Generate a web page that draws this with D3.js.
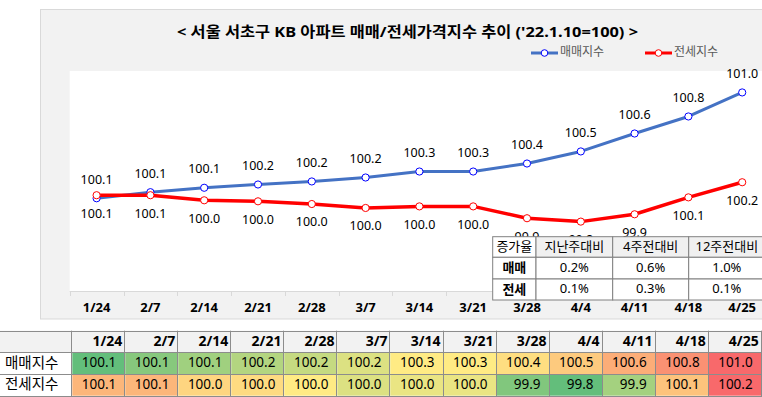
<!DOCTYPE html>
<html><head><meta charset="utf-8">
<script src="https://cdn.jsdelivr.net/npm/d3@7"></script>
<style>
html,body{margin:0;padding:0;background:#fff;overflow:hidden;}
svg{display:block;}
text{font-family:'Noto Sans','Noto Sans CJK KR',sans-serif;}
</style></head>
<body>
<svg id="c" width="762" height="397"></svg>
<script>
// ---- data ----
const title = "< 서울 서초구 KB 아파트 매매/전세가격지수 추이 ('22.1.10=100) >";
const categories = ["1/24","2/7","2/14","2/21","2/28","3/7","3/14","3/21","3/28","4/4","4/11","4/18","4/25"];
const seriesNames = ["매매지수","전세지수"];
const saleIndex = [100.052,100.106,100.145,100.174,100.201,100.236,100.289,100.289,100.36,100.467,100.626,100.777,100.99];
const jeonseIndex = [100.079,100.079,100.034,100.025,100.001,99.966,99.98,99.98,99.875,99.845,99.91,100.06,100.194];
const incHeaderCorner = "증가율";
const incHeaders = ["지난주대비","4주전대비","12주전대비"];
const incRowNames = ["매매","전세"];
const incSale = ["0.2%","0.6%","1.0%"];
const incJeonse = ["0.1%","0.3%","0.1%"];

const svg = d3.select("#c");
const fmt = d3.format(".1f");

// chart box
svg.append("rect").attr("x",40.5).attr("y",9.5).attr("width",760).attr("height",309.5)
  .attr("fill","#f2f2f2").attr("stroke","#d9d9d9");

// plot area
const x = d3.scaleBand().domain(categories).range([69.7, 769.1]).padding(0);
const y = d3.scaleLinear().domain([99.23, 101.18]).range([291, 71]);
svg.append("rect").attr("x",69.7).attr("y",71).attr("width",700).attr("height",220).attr("fill","#fff");

// title
svg.append("text").attr("x",407.5).attr("y",33).attr("text-anchor","middle").attr("dominant-baseline","middle")
  .attr("font-size",15).attr("font-weight","bold").attr("fill","#000")
  .attr("textLength",461).attr("lengthAdjust","spacingAndGlyphs").text(title);

// legend
const legCols = ["#4472c4","#ff0000"], mkCols = ["#0000ff","#ff0000"];
const legX = [531, 645];
seriesNames.forEach((n,i)=>{
  const g = svg.append("g");
  g.append("line").attr("x1",legX[i]).attr("x2",legX[i]+27).attr("y1",53).attr("y2",53)
    .attr("stroke",legCols[i]).attr("stroke-width",3);
  g.append("circle").attr("cx",legX[i]+13.5).attr("cy",53).attr("r",3.3).attr("fill","#fff").attr("stroke",mkCols[i]).attr("stroke-width",1);
  g.append("text").attr("x",legX[i]+29).attr("y",53).attr("dominant-baseline","middle")
    .attr("font-size",12).attr("fill","#595959").text(n);
});

// x axis
const axis = svg.append("g").attr("transform","translate(0,291)")
  .call(d3.axisBottom(x).tickSize(0).tickPadding(12));
axis.select(".domain").attr("stroke","#d9d9d9").attr("d","M69.7,0.5H770");
axis.selectAll("text").attr("font-size",13).attr("font-weight","bold").attr("fill","#000")
  .style("font-family","'Noto Sans','Noto Sans CJK KR',sans-serif");
svg.append("g").selectAll("line").data(categories).join("line")
  .attr("x1",d=>Math.round(x(d))+0.5).attr("x2",d=>Math.round(x(d))+0.5).attr("y1",291).attr("y2",296)
  .attr("stroke","#d9d9d9");

// lines
const cx = d=>x(d)+x.bandwidth()/2;
const line = d3.line().x((v,i)=>cx(categories[i])).y(v=>y(v));
const allSeries = [saleIndex, jeonseIndex];
const lw = [3, 3.5];
allSeries.forEach((s,k)=>{
  svg.append("path").datum(s).attr("d",line).attr("fill","none")
    .attr("stroke",legCols[k]).attr("stroke-width",lw[k]).attr("stroke-linejoin","round");
});
allSeries.forEach((s,k)=>{
  svg.append("g").selectAll("circle").data(s).join("circle")
    .attr("cx",(v,i)=>cx(categories[i])).attr("cy",v=>y(v)).attr("r",3.6)
    .attr("fill","#fff").attr("stroke",mkCols[k]).attr("stroke-width",1);
});
// point labels
allSeries.forEach((s,k)=>{
  svg.append("g").selectAll("text").data(s).join("text")
    .attr("x",(v,i)=>cx(categories[i])).attr("y",v=>y(v)+(k===0?-18:19))
    .attr("text-anchor","middle").attr("dominant-baseline","middle")
    .attr("font-size",12.5).attr("fill","#000").text(v=>fmt(v));
});

// inset increase table
const tx = [492.7, 536, 612.7, 688.7, 765];
const ty = [236.7, 257.3, 279, 300];
const inset = svg.append("g");
const incData = [[incHeaderCorner].concat(incHeaders), [incRowNames[0]].concat(incSale), [incRowNames[1]].concat(incJeonse)];
incData.forEach((row,r)=>{
  row.forEach((cell,c)=>{
    const bg = (r===0 && c>0) ? "#f0f0f0" : "#fff";
    inset.append("rect").attr("x",tx[c]).attr("y",ty[r]).attr("width",tx[c+1]-tx[c]).attr("height",ty[r+1]-ty[r])
      .attr("fill",bg).attr("stroke","#808080").attr("stroke-width",1);
    inset.append("text").attr("x",(tx[c]+tx[c+1])/2).attr("y",(ty[r]+ty[r+1])/2+0.5)
      .attr("text-anchor","middle").attr("dominant-baseline","middle")
      .attr("font-size",13).attr("font-weight",(r>0 && c===0)?"bold":"normal").attr("fill","#000")
      .text(cell);
  });
});

// bottom data table
const bx = d3.scaleBand().domain(categories).range([72.3, 761.7]);
const by = [330.7, 352.3, 374, 395.7];
const tbl = svg.append("g");
tbl.append("rect").attr("x",0).attr("y",by[0]).attr("width",762).attr("height",by[1]-by[0]).attr("fill","#f2f2f2");
tbl.selectAll("text.h").data(categories).join("text").attr("class","h")
  .attr("x",d=>bx(d)+bx.bandwidth()-3).attr("y",(by[0]+by[1])/2+1)
  .attr("text-anchor","end").attr("dominant-baseline","middle")
  .attr("font-size",14).attr("font-weight","bold").attr("fill","#000").text(d=>d);
const green="#63be7b", yellow="#ffeb84", red="#f8696b";
allSeries.forEach((s,k)=>{
  const sorted = s.slice().sort(d3.ascending);
  const col = d3.scaleLinear().domain([d3.min(s), d3.median(sorted), d3.max(s)])
    .range([green,yellow,red]).interpolate(d3.interpolateRgb);
  const g = tbl.append("g");
  g.append("rect").attr("x",0).attr("y",by[k+1]).attr("width",72.3).attr("height",by[k+2]-by[k+1]).attr("fill","#fff");
  g.append("text").attr("x",5).attr("y",(by[k+1]+by[k+2])/2+0.5).attr("dominant-baseline","middle")
    .attr("font-size",14.5).attr("fill","#000").text(seriesNames[k]);
  g.selectAll("rect.c").data(s).join("rect").attr("class","c")
    .attr("x",(v,i)=>bx(categories[i])).attr("y",by[k+1]).attr("width",bx.bandwidth()).attr("height",by[k+2]-by[k+1])
    .attr("fill",v=>col(v));
  g.selectAll("text.c").data(s).join("text").attr("class","c")
    .attr("x",(v,i)=>bx(categories[i])+bx.bandwidth()-9).attr("y",(by[k+1]+by[k+2])/2+0.5)
    .attr("text-anchor","end").attr("dominant-baseline","middle")
    .attr("font-size",13.5).attr("fill","#000").text(v=>fmt(v));
});
// grid lines
const gl = tbl.append("g").attr("stroke","#8c8c8c").attr("stroke-width",1);
by.forEach(v=>gl.append("line").attr("x1",0).attr("x2",762).attr("y1",Math.round(v)+0.5).attr("y2",Math.round(v)+0.5));
[72.3].concat(categories.map(c=>bx(c)+bx.bandwidth())).forEach(v=>
  gl.append("line").attr("x1",Math.round(v)-0.5).attr("x2",Math.round(v)-0.5).attr("y1",by[0]).attr("y2",397));
</script>
</body></html>
